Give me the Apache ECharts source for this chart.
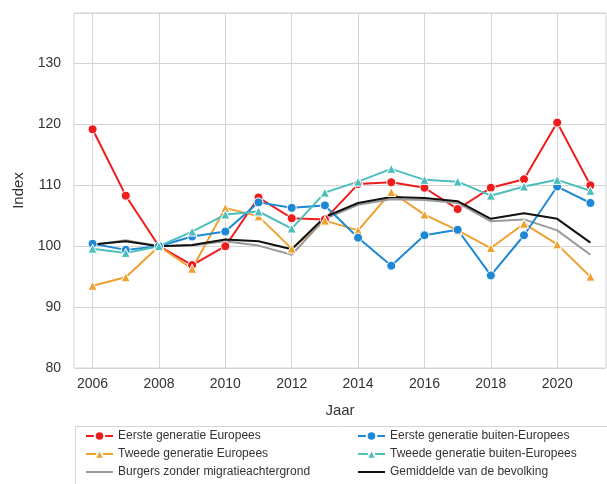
<!DOCTYPE html>
<html>
<head>
<meta charset="utf-8">
<script src="https://cdn.jsdelivr.net/npm/echarts@6/dist/echarts.min.js"></script>
<style>html,body{margin:0;padding:0;background:#fff}#c{width:607px;height:484px}</style>
</head>
<body>
<div id="c"></div>
<script>
var years = [2006,2007,2008,2009,2010,2011,2012,2013,2014,2015,2016,2017,2018,2019,2020,2021];
var xTicks = [2006,2008,2010,2012,2014,2016,2018,2020];
var yTicks = [80,90,100,110,120,130];
var eersteEuropees   = [119.2,108.3,100.0,96.9,100.0,108.0,104.6,104.4,110.2,110.5,109.6,106.1,109.6,111.0,120.3,110.0];
var tweedeEuropees   = [93.5,94.9,100.0,96.3,106.3,104.9,99.6,104.2,102.6,108.9,105.2,102.6,99.7,103.7,100.3,95.0];
var burgers          = [100.2,101.0,100.0,100.1,100.8,100.1,98.6,104.5,106.8,107.7,107.6,107.1,104.1,104.4,102.6,98.6];
var eersteBuiten     = [100.4,99.4,100.0,101.6,102.4,107.2,106.3,106.7,101.4,96.8,101.8,102.7,95.2,101.8,109.8,107.1];
var tweedeBuiten     = [99.6,98.9,100.0,102.4,105.2,105.7,102.9,108.8,110.6,112.7,110.9,110.6,108.3,109.8,110.9,109.1];
var gemiddelde       = [100.3,100.8,100.0,100.2,101.1,100.8,99.5,104.8,107.1,108.1,107.9,107.4,104.5,105.4,104.5,100.6];

var names = ['Eerste generatie Europees','Tweede generatie Europees','Burgers zonder migratieachtergrond',
             'Eerste generatie buiten-Europees','Tweede generatie buiten-Europees','Gemiddelde van de bevolking'];
var colors = ['#ee1c1c','#f0a030','#9a9a9a','#1f88d4','#4cbfbd','#111111'];
function pairs(v){ return years.map(function(y,i){ return [y, v[i]]; }); }
var font = 'Liberation Sans, Arial, sans-serif';
var txt = '#333333';
var lineIcon = 'path://M0,0 L27,0 L27,2 L0,2 Z';

function mk(name, data, color, symbol, size){
  return {
    name: name, type: 'line', data: pairs(data),
    symbol: symbol, symbolSize: size, showSymbol: symbol !== 'none',
    lineStyle: {color: color, width: 2},
    itemStyle: {color: color, borderColor: '#ffffff', borderWidth: 1},
    emphasis: {disabled: true}, animation: false
  };
}
function legendCfg(left, items){
  return {left: left, top: 425, height: 80, orient: 'vertical', itemGap: 6, itemWidth: 27, itemHeight: 12,
    textStyle: {fontFamily: font, fontSize: 12, color: txt}, data: items, selectedMode: false};
}

var chart = echarts.init(document.getElementById('c'), null, {renderer: 'canvas'});
chart.setOption({
  animation: false,
  grid: {left: 74, top: 13, right: 1, bottom: 116, show: true, borderColor: '#d4d4d4', borderWidth: 1, containLabel: false},
  xAxis: {
    type: 'value', min: 2005.44, max: 2021.47,
    name: 'Jaar', nameLocation: 'middle', nameGap: 35,
    nameTextStyle: {fontFamily: font, fontSize: 15, color: txt},
    axisLine: {show: false}, axisTick: {show: false, customValues: xTicks},
    axisLabel: {customValues: xTicks, fontFamily: font, fontSize: 14, color: txt, margin: 9, formatter: function(v){return String(v);}},
    splitLine: {show: true, lineStyle: {color: '#d4d4d4', width: 1}}
  },
  yAxis: {
    type: 'value', min: 80, max: 138.3, interval: 10,
    name: 'Index', nameLocation: 'middle', nameGap: 45, nameRotate: 90,
    nameTextStyle: {fontFamily: font, fontSize: 15, color: txt},
    axisLine: {show: false}, axisTick: {show: false},
    axisLabel: {fontFamily: font, fontSize: 14, color: txt, margin: 13, showMaxLabel: false,
      formatter: function(v){ return yTicks.indexOf(v) >= 0 ? String(v) : ''; }},
    splitLine: {show: true, lineStyle: {color: '#d4d4d4', width: 1}}
  },
  legend: [
    legendCfg(80, [{name: names[0]}, {name: names[1]},
      {name: names[2], icon: lineIcon, itemStyle: {color: colors[2], borderWidth: 0, opacity: 1}}]),
    legendCfg(352, [{name: names[3]}, {name: names[4]},
      {name: names[5], icon: lineIcon, itemStyle: {color: colors[5], borderWidth: 0, opacity: 1}}])
  ],
  graphic: [{type: 'rect', left: 73, top: 424, shape: {width: 540, height: 58}, style: {fill: 'none', stroke: '#d4d4d4', lineWidth: 1}, silent: true}],
  series: [
    mk(names[0], eersteEuropees, colors[0], 'circle', 9),
    mk(names[1], tweedeEuropees, colors[1], 'triangle', 9),
    mk(names[2], burgers, colors[2], 'none', 0),
    mk(names[3], eersteBuiten, colors[3], 'circle', 9),
    mk(names[4], tweedeBuiten, colors[4], 'triangle', 9),
    mk(names[5], gemiddelde, colors[5], 'none', 0)
  ]
});
</script>
</body>
</html>
